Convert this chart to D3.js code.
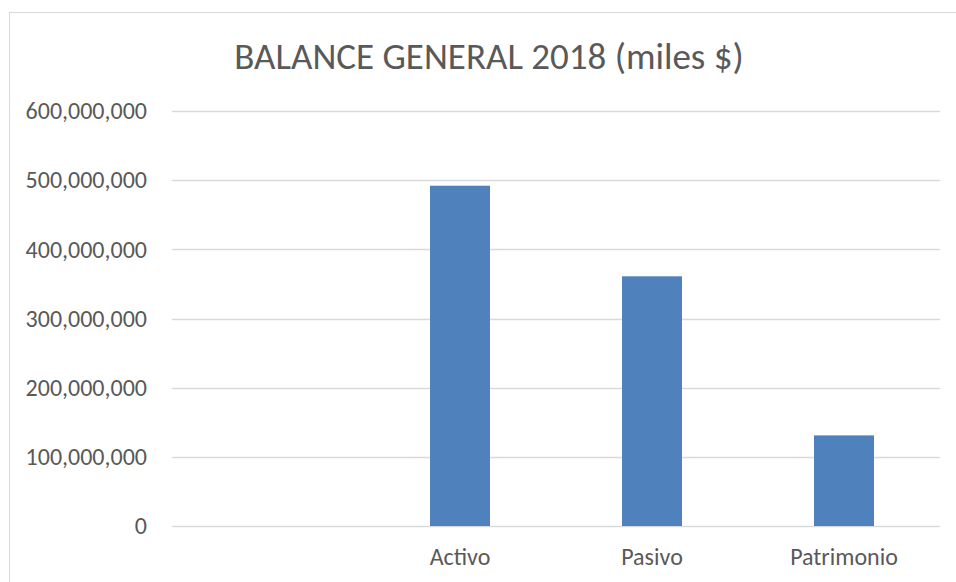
<!DOCTYPE html>
<html>
<head>
<meta charset="utf-8">
<script src="https://cdn.jsdelivr.net/npm/d3@7"></script>
<style>
  body { margin: 0; background: #fff; }
  text { font-family: Carlito, "Liberation Sans Narrow", "Open Sans", sans-serif; fill: #595959; }
</style>
</head>
<body>
<svg id="chart" width="956" height="582"></svg>
<script>
const categories = ["", "Activo", "Pasivo", "Patrimonio"];
const values = [null, 492000000, 361000000, 131000000];
const yTicks = [0, 100000000, 200000000, 300000000, 400000000, 500000000, 600000000];

const svg = d3.select("#chart");
const margin = { left: 172, right: 16, top: 111, bottom: 56 };
const width = 956, height = 582;

// chart border
svg.append("rect")
    .attr("x", 9.5).attr("y", 12.5)
    .attr("width", 960).attr("height", 600)
    .style("fill", "none")
    .style("stroke", "#d9d9d9");

svg.append("text")
    .attr("x", 489).attr("y", 69)
    .attr("text-anchor", "middle")
    .style("font-size", "37px")
    .text("BALANCE GENERAL 2018 (miles $)");

let x = d3.scaleBand()
    .domain(categories)
    .range([margin.left, width - margin.right])
    .paddingInner(0.6875)
    .paddingOuter(0.34375);

let y = d3.scaleLinear()
    .domain([0, 600000000])
    .range([526, margin.top]);

// gridlines
svg.append("g").selectAll("line")
    .data(yTicks)
    .enter().append("line")
    .attr("x1", margin.left).attr("x2", width - margin.right)
    .attr("y1", function (d) { return Math.round(y(d)) + 0.5; })
    .attr("y2", function (d) { return Math.round(y(d)) + 0.5; })
    .style("stroke", "#d9d9d9")
    .style("stroke-width", "1.5px");

let yAxis = d3.axisLeft(y)
    .tickValues(yTicks)
    .tickFormat(d3.format(","))
    .tickSize(0)
    .tickPadding(25);

svg.append("g")
    .attr("transform", "translate(" + margin.left + ",0)")
    .call(yAxis)
    .call(function (g) { g.select(".domain").remove(); })
    .selectAll("text")
    .style("font-size", "24px")
    .style("fill", "#595959");

svg.append("g").selectAll("rect")
    .data(categories.map(function (c, i) { return { c: c, v: values[i] }; }).filter(function (d) { return d.v != null; }))
    .enter().append("rect")
    .attr("x", function (d) { return x(d.c); })
    .attr("width", x.bandwidth())
    .attr("y", function (d) { return y(d.v); })
    .attr("height", function (d) { return y(0) - y(d.v); })
    .style("fill", "#4f81bd");

let xAxis = d3.axisBottom(x).tickSize(0).tickPadding(22);

svg.append("g")
    .attr("transform", "translate(0,526)")
    .call(xAxis)
    .call(function (g) { g.select(".domain").remove(); })
    .selectAll("text")
    .style("font-size", "24px")
    .style("fill", "#595959");
</script>
</body>
</html>
